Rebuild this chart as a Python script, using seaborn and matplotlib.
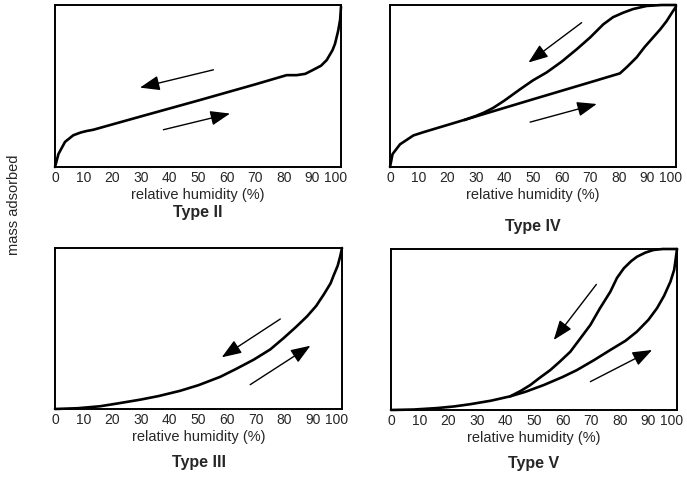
import matplotlib
matplotlib.use("Agg")
import matplotlib.pyplot as plt
import matplotlib.transforms as mtransforms
import seaborn as sns
import pandas as pd

sns.set_style("white")
plt.rcParams['font.family'] = ['Liberation Sans', 'DejaVu Sans']

# Isotherm data (relative humidity %, normalised mass adsorbed)
t2_rh = [0, 1.2, 3.5, 6.4, 9, 11, 13.4, 30, 50, 70, 81, 84.5, 87.5, 90.3, 93, 95, 97, 97.9, 99, 99.7, 100]
t2_mass = [0, 0.08, 0.155, 0.196, 0.213, 0.222, 0.23, 0.312, 0.41, 0.51, 0.567, 0.567, 0.575, 0.60, 0.625, 0.66, 0.72, 0.76, 0.84, 0.91, 0.99]

t4_ads_rh = [0, 0.9, 3.5, 8.2, 11.7, 30, 50, 70, 80.4, 83, 86.2, 89, 92, 94.5, 96.7, 98.5, 100]
t4_ads_mass = [0, 0.08, 0.14, 0.195, 0.215, 0.312, 0.418, 0.523, 0.578, 0.62, 0.676, 0.74, 0.80, 0.85, 0.90, 0.95, 0.99]
t4_des_rh = [26, 30, 33, 36.1, 40, 45.5, 50, 54.8, 60, 65.3, 70, 74.6, 78, 81.6, 85, 89.7, 95, 100]
t4_des_mass = [0.29, 0.315, 0.337, 0.365, 0.41, 0.48, 0.535, 0.584, 0.65, 0.727, 0.80, 0.881, 0.925, 0.953, 0.975, 0.994, 1.0, 1.0]

t3_rh = [0, 8, 15.7, 22, 29.7, 36, 43.6, 50, 57.6, 63, 69.2, 75, 79.7, 84, 87.8, 91, 93.6, 96, 97.1, 98.5, 99.4, 100]
t3_mass = [0, 0.005, 0.017, 0.035, 0.058, 0.08, 0.113, 0.148, 0.2, 0.248, 0.306, 0.37, 0.441, 0.51, 0.575, 0.64, 0.71, 0.78, 0.83, 0.89, 0.95, 1.0]

t5_ads_rh = [0, 8, 16.1, 22, 27.7, 35, 41.7, 47, 53.4, 60, 65, 71, 76.7, 82, 86, 90, 93, 95.5, 97.7, 99, 99.4, 100]
t5_ads_mass = [0, 0.003, 0.012, 0.022, 0.036, 0.058, 0.085, 0.113, 0.155, 0.205, 0.248, 0.31, 0.373, 0.43, 0.487, 0.56, 0.632, 0.71, 0.797, 0.87, 0.92, 1.0]
t5_des_rh = [41.7, 45.5, 48.7, 52, 55.7, 59, 62.7, 66, 69.7, 73, 76.7, 79, 81.4, 84, 86, 89, 91.8, 95, 100]
t5_des_mass = [0.085, 0.12, 0.155, 0.2, 0.248, 0.30, 0.362, 0.44, 0.528, 0.63, 0.735, 0.82, 0.88, 0.925, 0.952, 0.978, 0.994, 1.0, 1.0]

# arrows: (start rh, start mass, end rh, end mass)
t2_arrows = [(55.4, 0.60, 29.7, 0.49), (37.9, 0.23, 61.2, 0.33)]
t4_arrows = [(67, 0.891, 48.4, 0.645), (49, 0.277, 72.3, 0.389)]
t3_arrows = [(78.5, 0.559, 58.1, 0.321), (68, 0.151, 89, 0.393)]
t5_arrows = [(71.8, 0.78, 56.9, 0.435), (69.7, 0.176, 91.3, 0.373)]

tick_values = list(range(0, 101, 10))

W, H = 687, 479
fig = plt.figure(figsize=(W / 100, H / 100), dpi=100)


def px_axes(left, top, right, bottom):
    return fig.add_axes([left / W, 1 - bottom / H, (right - left) / W, (bottom - top) / H])


def draw_panel(ax, branches, arrows, title, title_y):
    for rh, mass in branches:
        df = pd.DataFrame({'rh': rh, 'mass': mass})
        sns.lineplot(data=df, x='rh', y='mass', sort=False, color='black',
                     linewidth=1.9, ax=ax, clip_on=False)
    for x0, y0, x1, y1 in arrows:
        ax.annotate('', xy=(x1, y1), xytext=(x0, y0),
                    arrowprops=dict(arrowstyle='-|>,head_length=1.2,head_width=0.45',
                                    color='black', lw=1.0, shrinkA=0, shrinkB=0))
    ax.set_xlim(0, 100)
    ax.set_ylim(0, 1)
    ax.set_yticks([])
    ax.set_xticks(tick_values)
    ax.tick_params(axis='x', length=0, pad=3, labelsize=10)
    # nudge "100" a little left so it stays inside the figure
    last = ax.get_xticklabels()[-1]
    last.set_transform(last.get_transform() +
                       mtransforms.ScaledTranslation(-4 / 72, 0, fig.dpi_scale_trans))
    ax.set_xlabel('relative humidity (%)', fontsize=10.5, labelpad=2)
    ax.set_ylabel('')
    for s in ax.spines.values():
        s.set_color('black')
        s.set_linewidth(1.4)
    ax.text(0.5, title_y, title, transform=ax.transAxes, ha='center', va='center',
            fontsize=11.5, fontweight='bold')


ax2 = px_axes(55, 5, 341, 167)
draw_panel(ax2, [(t2_rh, t2_mass)], t2_arrows, 'Type II', -0.28)

ax4 = px_axes(390, 5, 676, 167)
draw_panel(ax4, [(t4_ads_rh, t4_ads_mass), (t4_des_rh, t4_des_mass)], t4_arrows, 'Type IV', -0.365)

ax3 = px_axes(55, 248, 342, 409)
draw_panel(ax3, [(t3_rh, t3_mass)], t3_arrows, 'Type III', -0.33)

ax5 = px_axes(391, 249, 677, 410)
draw_panel(ax5, [(t5_ads_rh, t5_ads_mass), (t5_des_rh, t5_des_mass)], t5_arrows, 'Type V', -0.33)

fig.text(14 / W, 1 - 205 / H, 'mass adsorbed', rotation=90, ha='center', va='center', fontsize=10.5)

fig.savefig('out.png', dpi=100)
